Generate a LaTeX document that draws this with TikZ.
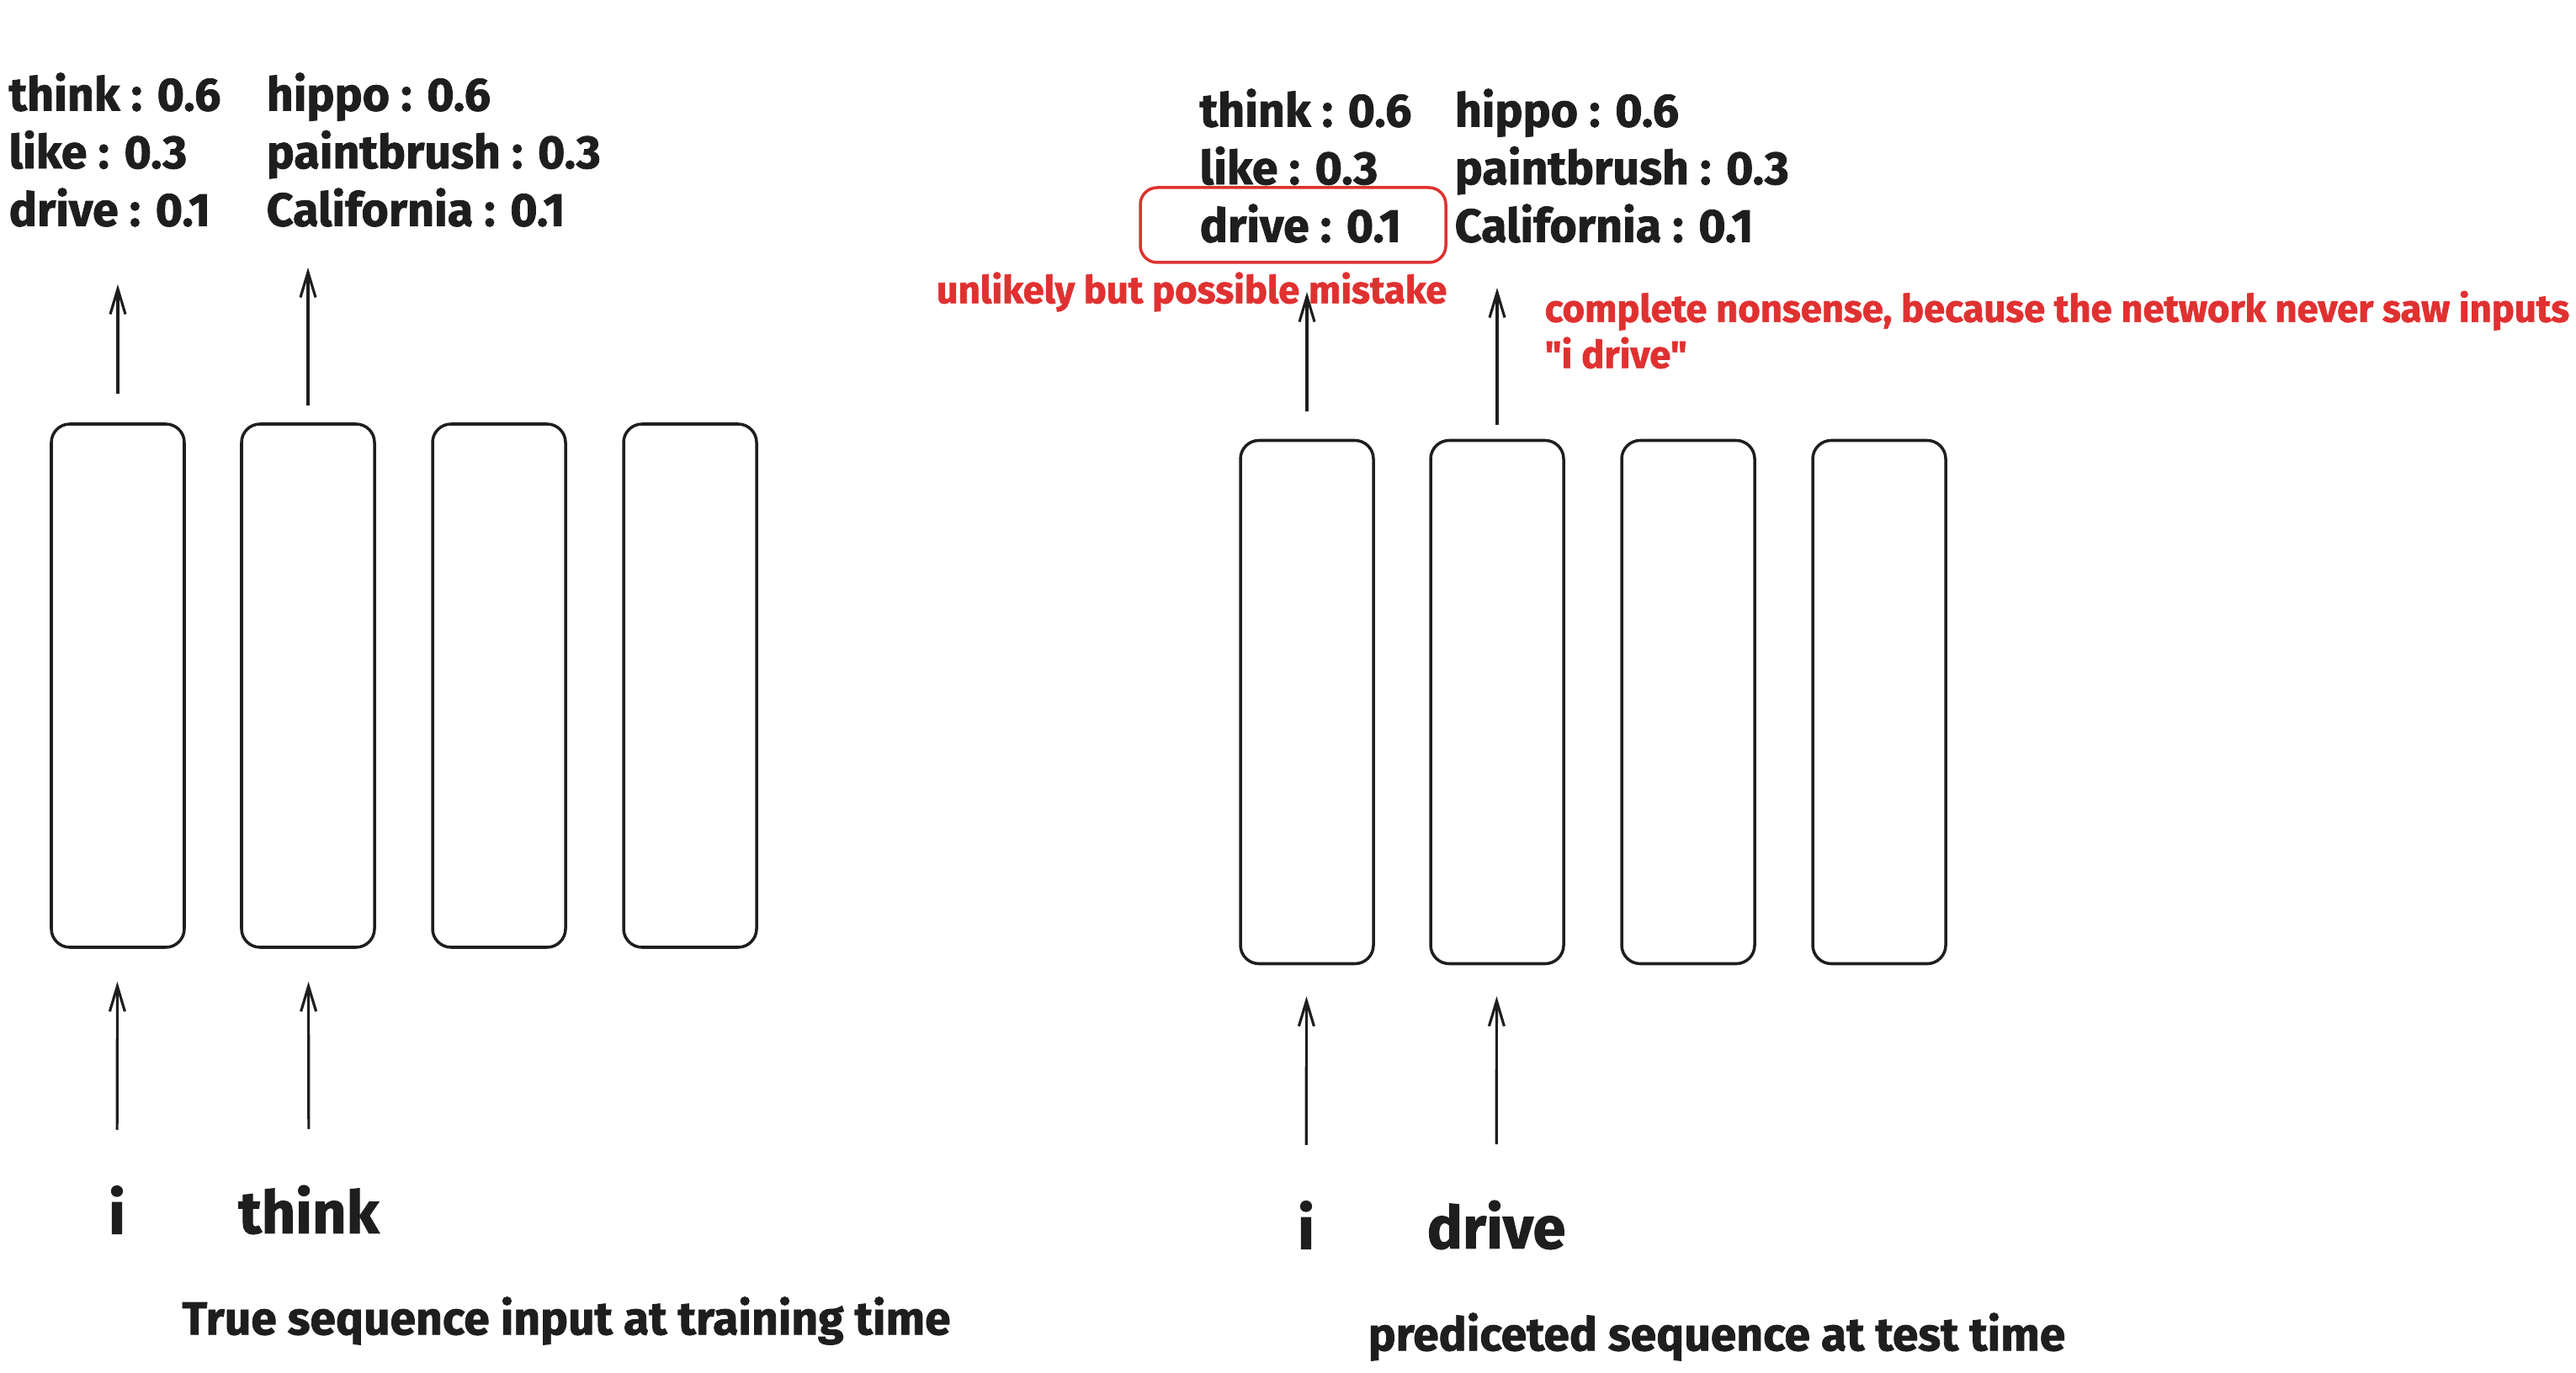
\documentclass[tikz,border=0pt]{standalone}
\usepackage{fontspec}
\usetikzlibrary{arrows.meta}

\newfontfamily\heavy{Fira Sans}[BoldFeatures={FakeBold=1.4}]

\definecolor{inkblack}{HTML}{1E1E1E}
\definecolor{inkred}{HTML}{E03131}

\tikzset{
  cell/.style={draw=inkblack, line width=1pt, rounded corners=0.22cm,
    minimum width=1.58cm, minimum height=6.22cm, inner sep=0pt},
  flow/.style={-{Straight Barb[length=3mm,width=1.8mm]}, draw=inkblack, line width=0.9pt},
  probs/.style={text=inkblack, align=left, anchor=west, inner sep=0pt,
    font=\heavy\bfseries\fontsize{15.8}{19.5}\selectfont},
  word/.style={text=inkblack, inner sep=0pt, font=\heavy\bfseries\fontsize{20}{24}\selectfont},
  caption/.style={text=inkblack, inner sep=0pt, font=\heavy\bfseries\fontsize{15.7}{20}\selectfont},
  note/.style={text=inkred, align=left, inner sep=0pt, font=\heavy\bfseries\fontsize{12.9}{15.6}\selectfont},
}

\begin{document}
\begin{tikzpicture}
    \useasboundingbox (0,0) rectangle (30.61,-16.32);

    % Training time: the true sequence is fed in
    \foreach \n/\x in {1/1.40, 2/3.66, 3/5.93, 4/8.20}
        \node[cell] (cellA\n) at (\x,-8.15) {};

    \node[probs] (outA1) at (0.10,-1.78) {think : 0.6\\like : 0.3\\drive : 0.1};
    \node[probs] (outA2) at (3.16,-1.78) {hippo : 0.6\\paintbrush : 0.3\\California : 0.1};

    \coordinate (tipA1) at (1.40,-3.38);
    \coordinate (tipA2) at (3.66,-3.18);
    \draw[flow, shorten <=0.34cm] (cellA1) -- (tipA1);
    \draw[flow, shorten <=0.20cm] (cellA2) -- (tipA2);

    \node[word] (inA1) at (1.39,-14.38) {i};
    \node[word] (inA2) at (3.67,-14.38) {think};
    \draw[flow, shorten <=0.66cm, shorten >=0.39cm] (inA1) -- (cellA1);
    \draw[flow, shorten <=0.66cm, shorten >=0.39cm] (inA2) -- (cellA2);

    \node[caption] (capA) at (6.73,-15.70) {True sequence input at training time};

    % Test time: the predicted sequence is fed back in
    \foreach \n/\x in {1/15.53, 2/17.79, 3/20.06, 4/22.33}
        \node[cell] (cellB\n) at (\x,-8.345) {};

    \node[probs] (outB1) at (14.25,-1.97) {think : 0.6\\like : 0.3\\drive : 0.1};
    \node[probs] (outB2) at (17.28,-1.97) {hippo : 0.6\\paintbrush : 0.3\\California : 0.1};

    \node[draw=inkred, line width=1pt, rounded corners=0.2cm,
        minimum width=3.63cm, minimum height=0.89cm] (mistakeBox) at (15.365,-2.675) {};

    \coordinate (tipB1) at (15.53,-3.47);
    \coordinate (tipB2) at (17.79,-3.42);
    \draw[flow, shorten <=0.33cm] (cellB1) -- (tipB1);
    \draw[flow, shorten <=0.17cm] (cellB2) -- (tipB2);

    \node[note] (mistakeNote) at (14.16,-3.47) {unlikely but possible mistake};
    \node[note, anchor=west] (nonsenseNote) at (18.35,-3.92)
        {complete nonsense, because the network never saw inputs\\"i drive"};

    \node[word] (inB1) at (15.52,-14.56) {i};
    \node[word] (inB2) at (17.78,-14.56) {drive};
    \draw[flow, shorten <=0.66cm, shorten >=0.37cm] (inB1) -- (cellB1);
    \draw[flow, shorten <=0.66cm, shorten >=0.37cm] (inB2) -- (cellB2);

    \node[caption] (capB) at (20.40,-15.89) {prediceted sequence at test time};
\end{tikzpicture}
\end{document}
